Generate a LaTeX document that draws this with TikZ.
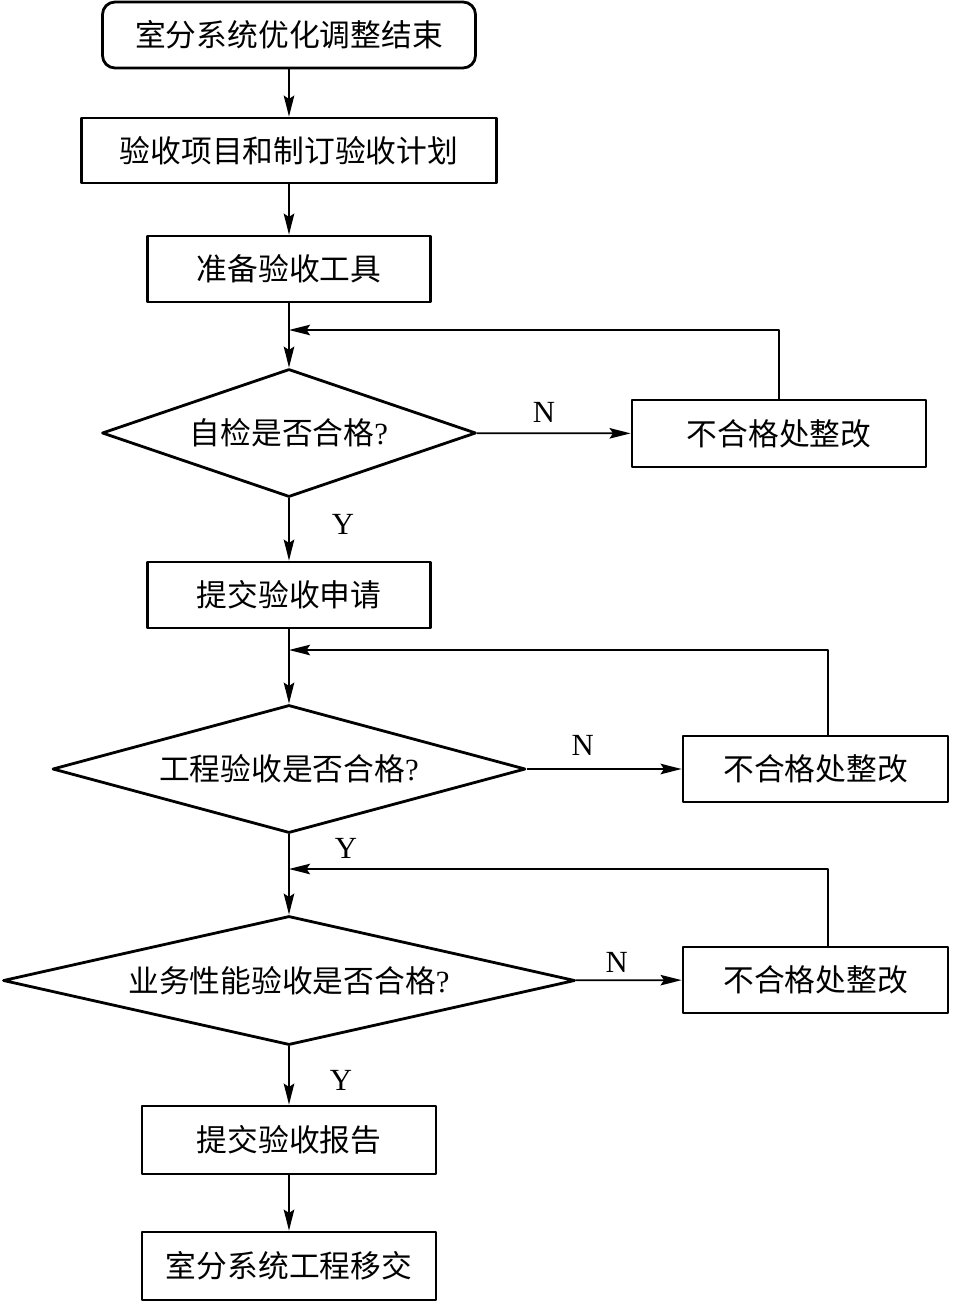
\documentclass[tikz,border=0pt]{standalone}
\usepackage{fontspec}
\setmainfont{Liberation Serif}
\newfontfamily\cjk{Noto Sans CJK SC}
\usetikzlibrary{shapes.geometric,arrows.meta}

\begin{document}
\begin{tikzpicture}[font=\fontsize{17.5}{20}\selectfont,line join=round,
	>={Stealth[length=12pt,width=6pt,inset=2pt]},
	khoi/.style={draw,line width=1.6pt,minimum width=5.66cm,minimum height=1.32cm,inner sep=0pt,font=\fontsize{17.5}{20}\selectfont\cjk},
	thoi/.style={draw,diamond,line width=1.6pt,inner sep=0pt,minimum height=2.56cm,font=\fontsize{17.5}{20}\selectfont\cjk},
	noi/.style={line width=1pt,->}]
	\def \tx{5.78}
	\useasboundingbox (0,0) rectangle (19.58,-26.04);
	%Các khối
	\node[khoi,rounded corners=0.25cm,minimum width=7.46cm] (jieshu) at (\tx,-0.70) {室分系统优化调整结束};
	\node[khoi,minimum width=8.30cm,minimum height=1.30cm] (jihua) at (\tx,-3.01) {验收项目和制订验收计划};
	\node[khoi] (gongju) at (\tx,-5.38) {准备验收工具};
	\node[thoi,minimum width=7.48cm,aspect=2.9] (zijian) at (\tx,-8.66) {自检是否合格{\rmfamily ?}};
	\node[khoi,minimum width=5.88cm,minimum height=1.34cm] (zhenggai1) at (15.58,-8.67) {不合格处整改};
	\node[khoi] (shenqing) at (\tx,-11.90) {提交验收申请};
	\node[thoi,minimum width=9.46cm,aspect=3.7] (gongcheng) at (\tx,-15.38) {工程验收是否合格{\rmfamily ?}};
	\node[khoi,minimum width=5.30cm] (zhenggai2) at (16.31,-15.38) {不合格处整改};
	\node[thoi,minimum width=11.44cm,minimum height=2.58cm,aspect=4.4] (yewu) at (\tx,-19.61) {业务性能验收是否合格{\rmfamily ?}};
	\node[khoi,minimum width=5.30cm] (zhenggai3) at (16.31,-19.60) {不合格处整改};
	\node[khoi,minimum width=5.88cm,minimum height=1.36cm] (baogao) at (\tx,-22.80) {提交验收报告};
	\node[khoi,minimum width=5.88cm,minimum height=1.36cm] (yijiao) at (\tx,-25.32) {室分系统工程移交};
	\coordinate (hoi1) at (\tx,-6.60);
	\coordinate (hoi2) at (\tx,-13.00);
	\coordinate (hoi3) at (\tx,-17.38);
	
	%Mũi tên
	\draw[noi] (jieshu) -- (jihua);
	\draw[noi] (jihua) -- (gongju);
	\draw[noi] (gongju) -- (zijian);
	\draw[noi] (zijian) -- node[pos=0.415,xshift=1.08cm]{Y} (shenqing);
	\draw[noi] (shenqing) -- (gongcheng);
	\draw[noi] (gongcheng) -- node[pos=0.18,xshift=1.14cm]{Y} (yewu);
	\draw[noi] (yewu) -- node[pos=0.59,xshift=1.04cm]{Y} (baogao);
	\draw[noi] (baogao) -- (yijiao);
	
	\draw[noi] (zijian) -- node[pos=0.436,yshift=0.42cm]{N} (zhenggai1);
	\draw[noi] (gongcheng) -- node[pos=0.36,yshift=0.48cm]{N} (zhenggai2);
	\draw[noi] (yewu) -- node[pos=0.39,yshift=0.36cm]{N} (zhenggai3);
	
	\draw[noi] (zhenggai1) |- (hoi1);
	\draw[noi] ([xshift=0.25cm]zhenggai2.north) |- (hoi2);
	\draw[noi] ([xshift=0.25cm]zhenggai3.north) |- (hoi3);
\end{tikzpicture}
\end{document}
